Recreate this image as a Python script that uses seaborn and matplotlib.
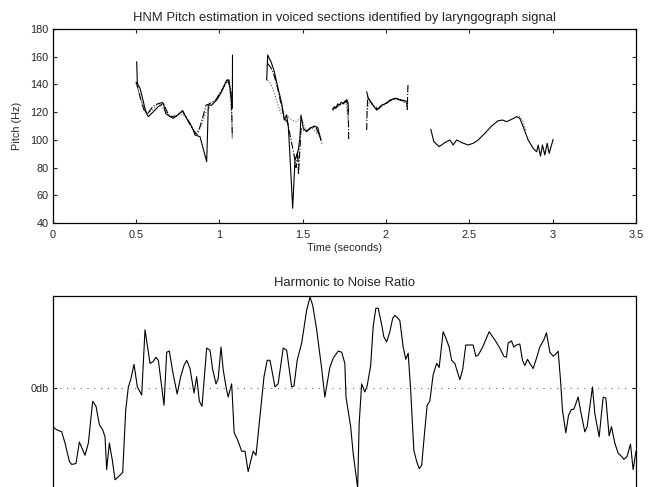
import pandas as pd
import matplotlib
matplotlib.use("Agg")
import matplotlib.pyplot as plt
import seaborn as sns

# Pitch (Hz) per voiced section, solid track
solid_t = [
    [0.504, 0.508, 0.524, 0.544, 0.558, 0.574, 0.604, 0.634, 0.664, 0.678, 0.704, 0.724, 0.744, 0.778,
     0.804, 0.824, 0.843, 0.854, 0.884, 0.924, 0.934, 0.954, 0.984, 1.014, 1.044, 1.058, 1.078, 1.079],
    [1.284, 1.290, 1.310, 1.330, 1.350, 1.374, 1.390, 1.404, 1.414, 1.424, 1.440, 1.454, 1.474, 1.484,
     1.490, 1.504, 1.524, 1.544, 1.570, 1.590, 1.610],
    [1.680, 1.690, 1.700, 1.710, 1.720, 1.730, 1.745, 1.755, 1.765, 1.772, 1.775],
    [1.884, 1.894, 1.914, 1.944, 1.974, 2.004, 2.024, 2.054, 2.084, 2.114, 2.130],
    [2.269, 2.287, 2.319, 2.353, 2.383, 2.403, 2.424, 2.454, 2.493, 2.523, 2.553, 2.593, 2.634, 2.673,
     2.700, 2.723, 2.754, 2.784, 2.803, 2.823, 2.853, 2.883, 2.904, 2.913, 2.927, 2.939, 2.953, 2.967,
     2.979, 3.003],
]
solid_hz = [
    [156.4, 140.8, 137.2, 127.5, 120.3, 116.7, 120.3, 123.9, 126.4, 119.1, 116.7, 115.5, 117.4, 120.8,
     115.5, 111.9, 107.1, 103.5, 102.3, 84.2, 125.1, 125.1, 128.7, 134.7, 143.2, 143.2, 122.8, 161.2],
    [143.2, 161.2, 156.4, 149.2, 138.3, 126.4, 114.3, 117.9, 109.5, 87.8, 50.6, 85.5, 92.7, 102.3,
     117.9, 108.3, 105.9, 108.3, 110.0, 109.0, 99.9],
    [122, 124, 123, 126, 125, 127, 126, 128, 129, 127, 120],
    [134.7, 130.0, 126.4, 121.5, 125.1, 126.4, 128.7, 130.0, 129.0, 128.2, 127.4],
    [107.6, 98.7, 95.1, 98.0, 99.9, 96.3, 99.9, 98.0, 96.3, 97.5, 99.9, 104.7, 110.0, 113.8,
     114.3, 113.1, 114.8, 116.7, 115.5, 109.5, 99.9, 93.9, 91.4, 96.3, 88.3, 96.3, 89.1, 97.5,
     90.3, 100.4],
]

# second estimate (dash-dot)
dashdot_t = [
    [0.50, 0.51, 0.53, 0.55, 0.57, 0.60, 0.63, 0.66, 0.70, 0.74, 0.78, 0.82, 0.86, 0.88, 0.90, 0.92,
     0.94, 0.98, 1.02, 1.05, 1.07, 1.075, 1.078],
    [1.29, 1.31, 1.33, 1.35, 1.37, 1.39, 1.41, 1.43, 1.45, 1.46, 1.47, 1.475, 1.49, 1.52, 1.55, 1.58, 1.61],
    [1.68, 1.72, 1.76, 1.77, 1.775, 1.776],
    [1.884, 1.886, 1.89, 1.92, 1.95, 1.98, 2.02, 2.06, 2.10, 2.125, 2.128, 2.130, 2.132],
]
dashdot_hz = [
    [142, 138, 128, 121, 119, 124, 126, 127, 117, 117, 121, 112, 104, 108, 116, 125,
     126, 129, 137, 143, 136, 118, 101],
    [155, 152, 146, 137, 126, 116, 112, 100, 88, 80, 92, 75, 108, 106, 109, 109, 100],
    [122, 125, 128, 126, 112, 100],
    [107, 118, 131, 125, 122, 125, 128, 130, 128, 126, 122, 133, 140],
]

# third estimate (dotted)
dotted_t = [
    [0.50, 0.52, 0.54, 0.57, 0.60, 0.64, 0.68, 0.72, 0.76, 0.80, 0.84, 0.87, 0.89, 0.91, 0.93, 0.96,
     1.00, 1.04, 1.06, 1.075, 1.078],
    [1.29, 1.31, 1.33, 1.35, 1.37, 1.40, 1.43, 1.46, 1.49, 1.52, 1.56, 1.60, 1.62],
    [1.68, 1.72, 1.76, 1.775],
    [1.884, 1.90, 1.93, 1.96, 2.00, 2.04, 2.08, 2.12, 2.13],
    [2.78, 2.80, 2.82, 2.84],
]
dotted_hz = [
    [141, 133, 126, 119, 122, 126, 120, 116, 119, 117, 108, 104, 110, 117, 122, 126,
     133, 142, 140, 114, 100],
    [143, 140, 134, 126, 119, 118, 115, 113, 116, 107, 108, 103, 96],
    [121, 125, 127, 112],
    [120, 128, 124, 123, 126, 129, 129, 127, 125],
    [117, 117, 114, 106],
]

# harmonic to noise ratio (db)
hnr_time = [0.000, 0.024, 0.054, 0.074, 0.100, 0.114, 0.140, 0.160, 0.194, 0.214,
            0.240, 0.260, 0.280, 0.300, 0.314, 0.324, 0.340, 0.358, 0.374, 0.394,
            0.420, 0.438, 0.454, 0.468, 0.488, 0.508, 0.534, 0.554, 0.584, 0.604,
            0.620, 0.634, 0.668, 0.684, 0.700, 0.720, 0.747, 0.768, 0.788, 0.804,
            0.824, 0.848, 0.864, 0.880, 0.896, 0.924, 0.944, 0.960, 0.980, 0.993,
            1.010, 1.023, 1.040, 1.053, 1.074, 1.089, 1.110, 1.134, 1.154, 1.173,
            1.203, 1.220, 1.244, 1.268, 1.287, 1.304, 1.334, 1.353, 1.383, 1.404,
            1.434, 1.448, 1.467, 1.494, 1.524, 1.544, 1.560, 1.584, 1.614, 1.633,
            1.663, 1.683, 1.713, 1.734, 1.753, 1.760, 1.788, 1.803, 1.824, 1.830,
            1.839, 1.854, 1.873, 1.887, 1.908, 1.923, 1.939, 1.953, 1.974, 1.987,
            2.004, 2.023, 2.040, 2.053, 2.067, 2.083, 2.103, 2.119, 2.133, 2.148,
            2.167, 2.184, 2.199, 2.214, 2.233, 2.247, 2.263, 2.283, 2.304, 2.319,
            2.343, 2.359, 2.379, 2.394, 2.413, 2.443, 2.460, 2.479, 2.499, 2.523,
            2.539, 2.553, 2.580, 2.619, 2.653, 2.683, 2.707, 2.723, 2.733, 2.753,
            2.767, 2.783, 2.803, 2.819, 2.833, 2.849, 2.867, 2.883, 2.903, 2.923,
            2.947, 2.963, 2.983, 3.003, 3.019, 3.033, 3.047, 3.059, 3.079, 3.095,
            3.113, 3.127, 3.153, 3.167, 3.193, 3.207, 3.239, 3.253, 3.279, 3.303,
            3.319, 3.339, 3.353, 3.373, 3.393, 3.413, 3.427, 3.447, 3.467, 3.483,
            3.500]
hnr_db = [-3.8, -4.1, -4.3, -5.4, -7.2, -7.5, -7.4, -5.3, -6.6, -5.4,
          -1.3, -1.8, -3.6, -4.1, -4.8, -8.0, -5.4, -7.1, -9.0, -8.7,
          -8.3, -2.2, 0.1, 0.8, 2.3, 0.1, -0.7, 5.7, 2.4, 2.6,
          3.0, 2.7, -1.7, 3.5, 3.6, 1.6, -0.6, 1.1, 2.2, 2.7,
          1.9, -0.5, 1.1, -1.3, -1.8, 3.9, 3.7, 1.8, 0.4, 0.9,
          4.0, 1.8, 0.1, -0.9, 0.4, -4.4, -5.1, -6.2, -6.2, -8.2,
          -6.2, -6.6, -2.8, 1.1, 2.7, 2.7, 0.1, 0.4, 3.9, 3.7,
          0.1, 0.2, 2.7, 4.4, 7.6, 8.9, 8.1, 5.7, 1.9, -0.9,
          2.0, 2.9, 3.6, 3.5, 2.4, -0.9, -3.8, -6.4, -9.0, -9.8,
          -3.5, 0.4, -0.4, 0.2, 2.2, 6.0, 7.8, 7.8, 6.2, 5.0,
          4.5, 5.5, 6.8, 7.1, 6.9, 6.6, 4.0, 2.8, 3.4, -0.2,
          -6.1, -7.2, -7.9, -7.6, -4.1, -1.7, -1.3, 1.3, 2.4, 2.0,
          5.5, 4.9, 4.0, 2.7, 2.4, 0.8, 1.8, 4.2, 4.2, 4.2,
          3.1, 3.2, 4.0, 5.5, 4.7, 3.9, 3.1, 3.0, 4.4, 4.6,
          4.0, 4.2, 4.3, 2.7, 2.2, 2.8, 2.3, 1.9, 2.9, 4.0,
          4.7, 5.4, 3.5, 3.1, 3.3, 3.6, 0.8, -2.2, -4.4, -2.7,
          -2.1, -2.1, -0.9, -2.2, -4.3, -3.8, 0.1, -2.5, -4.8, -0.9,
          -1.0, -4.7, -3.8, -5.4, -6.4, -6.7, -7.0, -6.7, -5.5, -8.0,
          -6.2]


def to_frame(ts, hs):
    rows = []
    for k, (t, h) in enumerate(zip(ts, hs)):
        rows += [{"time": a, "pitch": b, "seg": k} for a, b in zip(t, h)]
    return pd.DataFrame(rows)


sns.set_style("ticks")
plt.rcParams["font.family"] = ["Liberation Sans", "DejaVu Sans"]
plt.rcParams["font.size"] = 7.8

fig = plt.figure(figsize=(6.57, 4.87), dpi=100)
ax1 = fig.add_axes([0.0802, 0.5421, 0.8878, 0.3984])
ax2 = fig.add_axes([0.0802, -0.0062, 0.8878, 0.3984])

# top: pitch tracks
for ts, hs, style, col in [(dotted_t, dotted_hz, ":", "0.35"),
                           (dashdot_t, dashdot_hz, "-.", "black"),
                           (solid_t, solid_hz, "-", "black")]:
    sns.lineplot(data=to_frame(ts, hs), x="time", y="pitch", units="seg", estimator=None,
                 sort=False, color=col, linestyle=style, linewidth=0.8, ax=ax1)

ax1.set_xlim(0, 3.5)
ax1.set_ylim(40, 180)
ax1.set_xticks([0, 0.5, 1, 1.5, 2, 2.5, 3, 3.5])
ax1.set_xticklabels(["0", "0.5", "1", "1.5", "2", "2.5", "3", "3.5"])
ax1.set_yticks(range(40, 181, 20))
ax1.set_xlabel("Time (seconds)", labelpad=2.5)
ax1.set_ylabel("Pitch (Hz)", labelpad=6)
ax1.set_title("HNM Pitch estimation in voiced sections identified by laryngograph signal", pad=6)
ax1.tick_params(direction="in", length=3, width=0.8, top=True, right=True, pad=3)
ax1.tick_params(axis="x", pad=5)

# bottom: HNR
hnr = pd.DataFrame({"time": hnr_time, "db": hnr_db})
sns.lineplot(data=hnr, x="time", y="db", color="black", linewidth=0.8, estimator=None, ax=ax2)
ax2.axhline(0, color="0.3", linewidth=0.7, linestyle=(0, (1, 6)))
ax2.set_xlim(0, 3.5)
ax2.set_ylim(-10, 9)
ax2.set_xticks([])
ax2.set_yticks([0])
ax2.set_yticklabels(["0db"])
ax2.set_xlabel("")
ax2.set_ylabel("")
ax2.set_title("Harmonic to Noise Ratio", pad=7)
ax2.tick_params(direction="in", length=3, width=0.8, right=True, pad=3)

for ax in (ax1, ax2):
    for s in ax.spines.values():
        s.set_linewidth(0.9)
        s.set_color("black")

fig.savefig("out.png", dpi=100)
